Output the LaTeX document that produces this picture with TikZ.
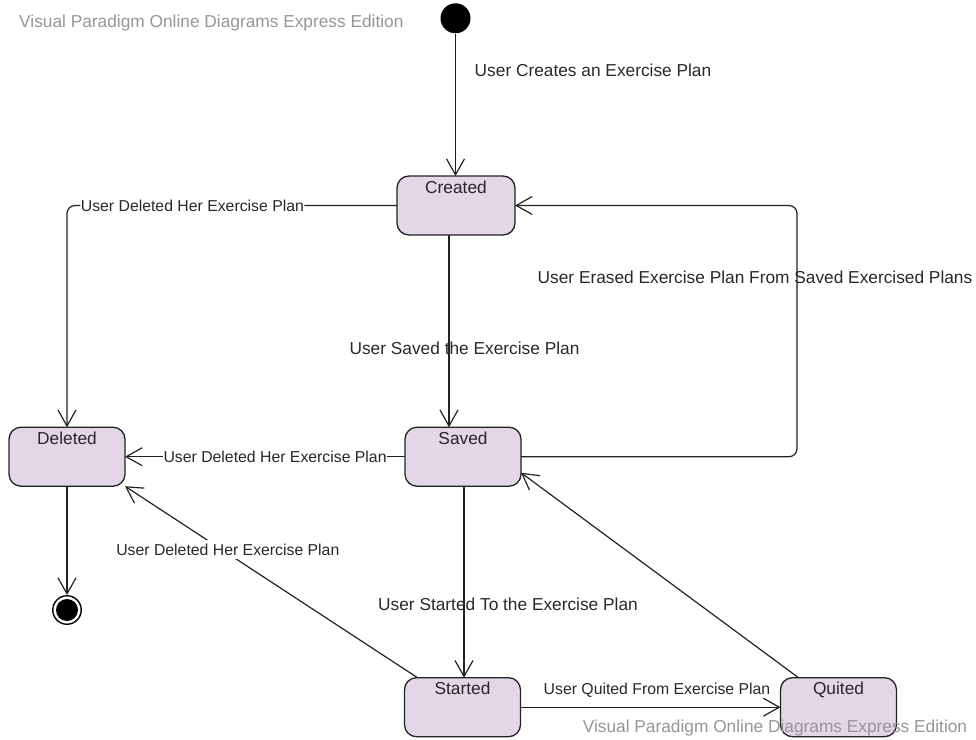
\documentclass[tikz,border=0pt]{standalone}
\usepackage{fontspec}
\setmainfont{Liberation Sans}
\usetikzlibrary{arrows.meta}
\definecolor{statefill}{RGB}{226,214,231}
\definecolor{edgec}{RGB}{34,34,34}
\definecolor{txt}{RGB}{40,40,40}
\definecolor{wm}{RGB}{150,150,150}
\begin{document}
\begin{tikzpicture}[x=1pt,y=-1pt,
  state/.style={draw=edgec, line width=1.3pt, fill=statefill, rounded corners=12pt,
    minimum width=116pt, minimum height=59pt, inner sep=0pt, outer sep=0pt},
  sname/.style={anchor=north, inner sep=0pt, yshift=-4.5pt, text=txt,
    text height=12.4pt, text depth=0pt, font=\fontsize{17.3}{20}\selectfont},
  trans/.style={draw=edgec, line width=1.2pt,
    -{Straight Barb[length=16pt,width=18pt,line width=1.2pt]}},
  big/.style={text=txt, inner sep=1pt, text height=12.4pt, text depth=0pt,
    font=\fontsize{17.3}{20}\selectfont},
  small/.style={text=txt, inner sep=1pt, text height=11.3pt, text depth=0pt,
    font=\fontsize{15.8}{18}\selectfont},
  wmark/.style={text=wm, inner sep=0pt, text height=12.4pt, text depth=0pt,
    font=\fontsize{17.3}{20}\selectfont}]
\useasboundingbox (0,0) rectangle (976,739);

% states
\node[state, minimum width=118pt, label={[sname]north:Created}] (created) at (456,205.5) {};
\node[state, label={[sname]north:Deleted}] (deleted) at (67,456.7) {};
\node[state, label={[sname]north:Saved}] (saved) at (463,456.7) {};
\node[state, label={[sname]north:Started}] (started) at (462.5,707.2) {};
\node[state, label={[sname]north:Quited}] (quited) at (838.5,707.2) {};

% pseudo states
\node[circle, fill=black, minimum size=30pt, inner sep=0pt] (init) at (455.5,18.3) {};
\node[circle, draw=black, line width=1.4pt, fill=white, minimum size=28.5pt, inner sep=0pt] (fin) at (67,610) {};
\node[circle, fill=black, minimum size=22pt, inner sep=0pt] (fincore) at (fin) {};

% transitions
\draw[trans] (init.south) -- (init.south |- created.north);
\node[big] (lcreate) at (593,69.8) {User Creates an Exercise Plan};

\draw[trans, rounded corners=8pt] (created.west) -| node[pos=0.31, small, fill=white, inner sep=0.5pt] (ldel1) {User Deleted Her Exercise Plan} (deleted.north);

\draw[trans] ([xshift=-7pt]created.south) -- ([xshift=-7pt]created.south |- saved.north);
\node[big] (lsaved) at (464.5,348) {User Saved the Exercise Plan};

\coordinate (loopx) at (797,0);
\draw[trans, rounded corners=8pt] (saved.east) -| (loopx |- created.east) -- (created.east);
\node[big] (lerase) at (755,277) {User Erased Exercise Plan From Saved Exercised Plans};

\draw[trans] (saved.west) -- (deleted.east |- saved.west)
  node[pos=0.464, small, fill=white, inner sep=0.5pt] (ldel2) {User Deleted Her Exercise Plan};

\draw[trans] ([xshift=1pt]saved.south) -- ([xshift=1pt]saved.south |- started.north);
\node[big] (lstart) at (508,604.5) {User Started To the Exercise Plan};

\draw[trans] ([xshift=13pt]started.north west) -- (deleted.south east)
  node[pos=0.669, xshift=6pt, small, fill=white, inner xsep=1pt, inner ysep=4pt] (ldel3) {User Deleted Her Exercise Plan};

\draw[trans] (started.east) -- (quited.west);
\node[small] (lquit) at (657,689) {User Quited From Exercise Plan};

\draw[trans] ([xshift=18pt]quited.north west) -- ([yshift=-16pt]saved.east);

\draw[trans] (deleted.south) -- (fin.north);

% watermarks
\node[wmark, anchor=west] (wm1) at (19,20.8) {Visual Paradigm Online Diagrams Express Edition};
\node[wmark] (wm2) at (775,726) {Visual Paradigm Online Diagrams Express Edition};
\end{tikzpicture}
\end{document}
